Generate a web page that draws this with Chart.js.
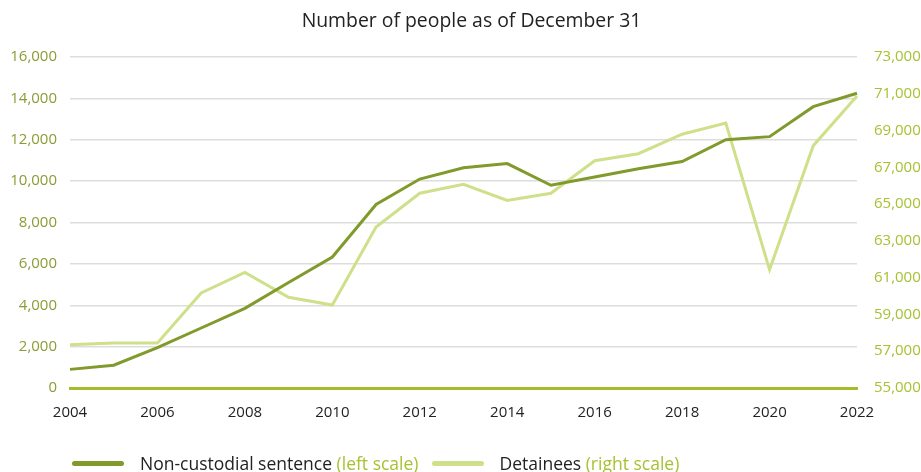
<!DOCTYPE html>
<html>
<head>
<meta charset="utf-8">
<script src="https://cdn.jsdelivr.net/npm/chart.js@4"></script>
<style>
    body { margin: 0; background: #fff; font-family: "Open Sans", sans-serif; }
    #wrap { position: relative; width: 921px; height: 472px; overflow: hidden; }
    canvas { display: block; position: absolute; left: 0; top: 0; }
    #title { position: absolute; left: 11px; top: 7px; width: 921px; text-align: center; font-size: 19.4px; line-height: 26px; color: #222; }
    #legend { position: absolute; left: 72px; top: 452px; height: 22px; display: flex; align-items: center; font-size: 17.5px; color: #222; white-space: nowrap; }
    #legend span.item { display: flex; align-items: center; }
    #legend i { display: block; width: 52px; height: 5px; border-radius: 3px; margin-right: 16px; }
    #legend em { font-style: normal; color: #a6c232; }
</style>
</head>
<body>
<div id="wrap">
    <canvas id="chart" width="921" height="472"></canvas>
    <div id="title">Number of people as of December 31</div>
    <div id="legend">
        <span class="item"><i style="background:#809a2b"></i>Non-custodial sentence&nbsp;<em>(left scale)</em></span>
        <span class="item" style="margin-left:13px"><i style="background:#cfe08a"></i>Detainees&nbsp;<em>(right scale)</em></span>
    </div>
</div>
<script>
// data
const years = ["2004", "2005", "2006", "2007", "2008", "2009", "2010", "2011", "2012", "2013",
    "2014", "2015", "2016", "2017", "2018", "2019", "2020", "2021", "2022"];
const nonCustodial = [900, 1100, 1950, 2900, 3850, 5100, 6330, 8870, 10100, 10650,
    10850, 9800, 10200, 10600, 10950, 12000, 12150, 13600, 14250];
const detainees = [57350, 57450, 57450, 60170, 61290, 59930, 59510, 63750, 65590, 66080,
    65200, 65590, 67360, 67740, 68800, 69410, 61430, 68180, 70880];
const leftTicks = [0, 2000, 4000, 6000, 8000, 10000, 12000, 14000, 16000];
const rightTicks = [55000, 57000, 59000, 61000, 63000, 65000, 67000, 69000, 71000, 73000];

const darkGreen = "#809a2b";
const lightGreen = "#cfe08a";

Chart.defaults.font.family = "'Open Sans', sans-serif";
Chart.defaults.font.size = 15;

new Chart(document.getElementById("chart"), {
    type: "line",
    data: {
        labels: years,
        datasets: [
            {
                label: "Non-custodial sentence",
                data: nonCustodial,
                yAxisID: "left",
                borderColor: darkGreen,
                borderWidth: 3,
                pointRadius: 0,
                tension: 0,
            },
            {
                label: "Detainees",
                data: detainees,
                yAxisID: "right",
                borderColor: lightGreen,
                borderWidth: 3,
                pointRadius: 0,
                tension: 0,
            },
        ],
    },
    options: {
        responsive: false,
        animation: false,
        layout: { padding: { top: 57, bottom: 42 } },
        plugins: {
            legend: { display: false },
            tooltip: { enabled: false },
            title: { display: false },
        },
        scales: {
            x: {
                grid: { display: false },
                border: { color: "#a3bd2c", width: 3 },
                ticks: {
                    color: "#222",
                    autoSkip: false,
                    maxRotation: 0,
                    padding: 8,
                    callback: function (v, i) {
                        return i % 2 === 0 ? years[i] : "";
                    },
                },
            },
            left: {
                position: "left",
                min: 0,
                max: 16000,
                afterBuildTicks: (axis) => { axis.ticks = leftTicks.map((v) => ({ value: v })); },
                afterFit: (axis) => { axis.width = 70; },
                grid: { color: "#dddddd", lineWidth: 1.5, drawTicks: false },
                border: { display: false },
                ticks: {
                    color: "#8a9c35",
                    padding: 13,
                    callback: (v) => v.toLocaleString("en-US"),
                },
            },
            right: {
                position: "right",
                min: 55000,
                max: 73000,
                afterBuildTicks: (axis) => { axis.ticks = rightTicks.map((v) => ({ value: v })); },
                afterFit: (axis) => { axis.width = 64; },
                grid: { display: false },
                border: { display: false },
                ticks: {
                    color: "#a6c232",
                    padding: 9,
                    callback: (v) => v.toLocaleString("en-US"),
                },
            },
        },
    },
});
</script>
</body>
</html>
